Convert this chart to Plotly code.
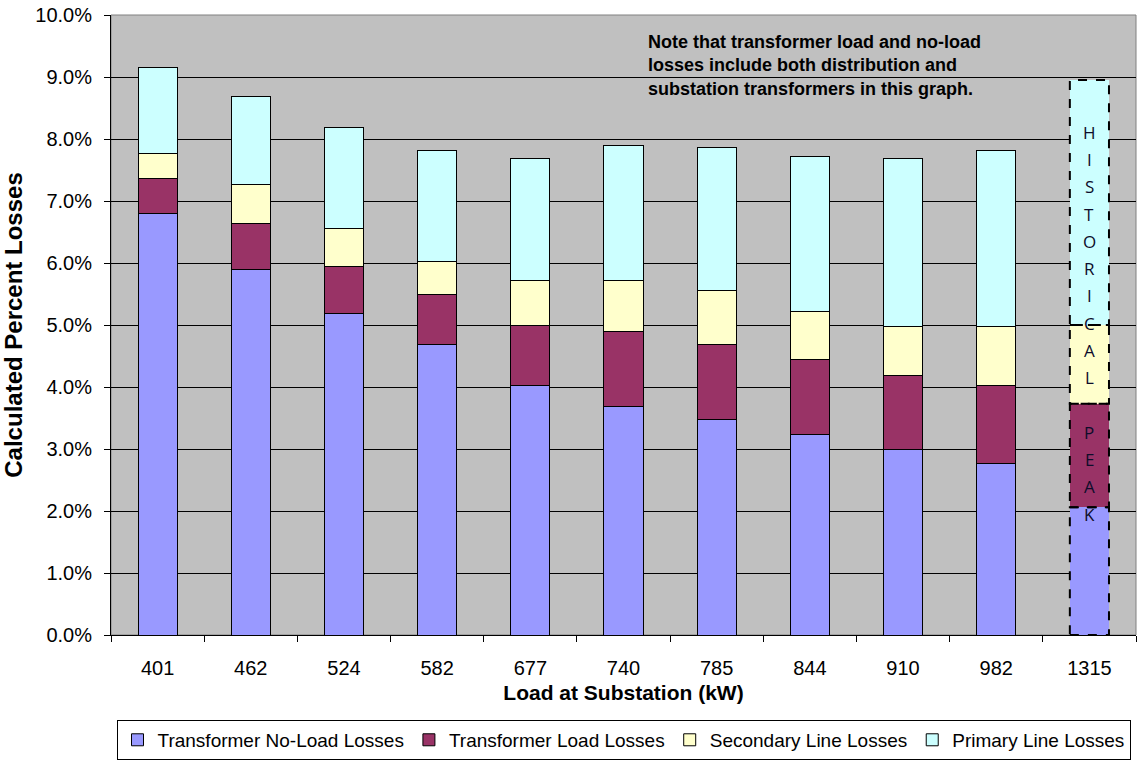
import plotly.graph_objects as go

categories = ["401", "462", "524", "582", "677", "740", "785", "844", "910", "982", "1315"]
no_load = [6.80, 5.90, 5.19, 4.68, 4.03, 3.69, 3.47, 3.23, 3.00, 2.77, 2.06]
load = [0.57, 0.73, 0.75, 0.82, 0.97, 1.21, 1.22, 1.22, 1.18, 1.26, 1.67]
secondary = [0.40, 0.63, 0.62, 0.52, 0.71, 0.81, 0.87, 0.76, 0.80, 0.94, 1.27]
primary = [1.39, 1.42, 1.63, 1.80, 1.98, 2.18, 2.31, 2.50, 2.71, 2.85, 3.95]
series_names = ["Transformer No-Load Losses", "Transformer Load Losses",
                "Secondary Line Losses", "Primary Line Losses"]
colors = ["#9999FF", "#993366", "#FFFFCC", "#CCFFFF"]
y_ticks = [0, 1, 2, 3, 4, 5, 6, 7, 8, 9, 10]
y_tick_text = [f"{v:.1f}%" for v in y_ticks]
note_text = ("<b>Note that transformer load and no-load<br>"
             "losses include both distribution and<br>"
             "substation transformers in this graph.</b>")
vertical_label = "HISTORICAL PEAK"

BAR_W = 0.42
font_main = "Liberation Sans, Arial, sans-serif"

n = len(categories)
xpos = list(range(n))
series = [no_load, load, secondary, primary]

fig = go.Figure()
for name, vals, col in zip(series_names, series, colors):
    fig.add_trace(go.Bar(
        x=xpos[:-1], y=vals[:-1], name=name, width=BAR_W, legendgroup=name,
        marker=dict(color=col, line=dict(color="black", width=1)),
    ))
for name, vals, col in zip(series_names, series, colors):
    fig.add_trace(go.Bar(
        x=xpos[-1:], y=vals[-1:], name=name, width=BAR_W, legendgroup=name,
        showlegend=False, marker=dict(color=col, line=dict(width=0)),
    ))

last = n - 1
base = 0.0
for vals in series:
    top = base + vals[last]
    fig.add_shape(type="rect", xref="x", yref="y",
                  x0=last - BAR_W / 2, x1=last + BAR_W / 2, y0=base, y1=top,
                  line=dict(color="black", width=2, dash="dash"),
                  fillcolor="rgba(0,0,0,0)", layer="above")
    base = top

y_start = 8.11
step = 0.44
for i, ch in enumerate(vertical_label):
    if ch == " ":
        continue
    fig.add_annotation(x=last, y=y_start - step * i, xref="x", yref="y",
                       text=ch, showarrow=False,
                       font=dict(family="Open Sans, Noto Sans, sans-serif", size=17, color="#0d0d2b"))

fig.add_annotation(x=0.522, y=0.976, xref="paper", yref="paper", xanchor="left", yanchor="top",
                   text=note_text, showarrow=False, align="left",
                   font=dict(family=font_main, size=18, color="black"))

fig.add_shape(type="rect", xref="paper", yref="paper", x0=0, x1=1, y0=0, y1=1,
              line=dict(color="#808080", width=1), layer="below")

fig.update_layout(
    width=1143, height=765,
    barmode="stack",
    paper_bgcolor="white", plot_bgcolor="#C0C0C0",
    margin=dict(l=111, r=7, t=15, b=130, autoexpand=False),
    font=dict(family=font_main, size=20, color="black"),
    showlegend=True,
    legend=dict(orientation="h", x=0.5, xanchor="center", y=-0.137, yanchor="top",
                bordercolor="black", borderwidth=1, bgcolor="white", itemwidth=30,
                font=dict(size=19, family=font_main), traceorder="normal"),
    xaxis=dict(range=[-0.5, n - 0.5], tickvals=xpos, ticktext=categories, automargin=False,
               showgrid=False, showline=True, linecolor="black", linewidth=1,
               ticks="", zeroline=False, tickfont=dict(size=20), ticklabelstandoff=15,
               minor=dict(tickvals=[i - 0.5 for i in range(n + 1)], ticks="outside",
                          ticklen=6, tickcolor="black", showgrid=False),
               title=dict(text="<b>Load at Substation (kW)</b>", font=dict(size=21), standoff=7)),
    yaxis=dict(range=[0, 10], tickvals=y_ticks, ticktext=y_tick_text, automargin=False,
               showgrid=True, gridcolor="black", gridwidth=1,
               showline=True, linecolor="black", linewidth=1,
               ticks="outside", ticklen=6, tickcolor="black", zeroline=False,
               tickfont=dict(size=20), ticklabelstandoff=8,
               title=dict(text="<b>Calculated Percent Losses</b>", font=dict(size=24), standoff=7)),
)

fig.write_html("out.html")
